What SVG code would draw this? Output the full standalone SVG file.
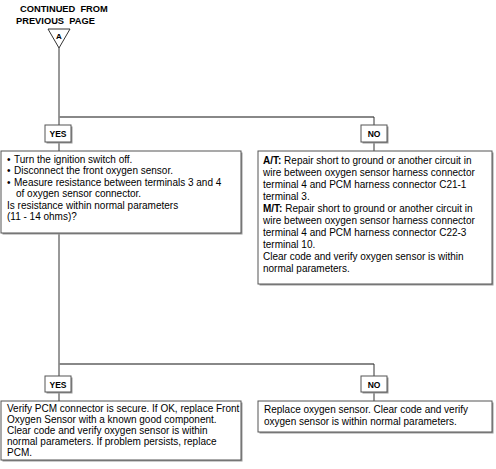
<svg xmlns="http://www.w3.org/2000/svg" width="496" height="469" viewBox="0 0 496 469">
<style>
text{font-family:"Liberation Sans",Arial,sans-serif;fill:#000}
.t{font-size:10px}
.h{font-size:9.3px;font-weight:bold;white-space:pre}
.lb{font-size:8.5px;font-weight:bold;text-anchor:middle}
.box{fill:#fff;stroke:#555;stroke-width:1}
.sh{fill:#999;stroke:none}
.c{stroke:#333;stroke-width:1;fill:none}
.ch{stroke:#888;stroke-width:2;fill:none}
</style>
<rect width="496" height="469" fill="#fff"/>
<g id="start">
<text class="h" x="20" y="12" xml:space="preserve">CONTINUED  FROM</text>
<text class="h" x="16" y="24" xml:space="preserve">PREVIOUS  PAGE</text>
<polygon points="48,29 70,29 59,48" fill="#fff" stroke="#333" stroke-width="1"/>
<text class="lb" x="59" y="39" style="font-size:8px">A</text>
</g>
<g id="connectors">
<line class="c" x1="59" y1="48" x2="59" y2="125"/>
<line class="ch" x1="59" y1="117" x2="374" y2="117"/>
<line class="c" x1="374" y1="117" x2="374" y2="125"/>
<line class="c" x1="59" y1="142" x2="59" y2="151"/>
<line class="c" x1="374" y1="142" x2="374" y2="151"/>
<line class="c" x1="59" y1="233" x2="59" y2="376"/>
<line class="ch" x1="59" y1="364" x2="374" y2="364"/>
<line class="c" x1="374" y1="364" x2="374" y2="376"/>
<line class="c" x1="59" y1="392" x2="59" y2="401"/>
<line class="c" x1="374" y1="392" x2="374" y2="401"/>
</g>
<g id="yes1">
<rect class="sh" x="46.5" y="126.5" width="26" height="17"/>
<rect class="box" x="45" y="125" width="26" height="17"/>
<text class="lb" x="58" y="137">YES</text>
</g>
<g id="no1">
<rect class="sh" x="362.5" y="126.5" width="26" height="17"/>
<rect class="box" x="361" y="125" width="26" height="17"/>
<text class="lb" x="374" y="137">NO</text>
</g>
<g id="check">
<rect class="sh" x="2.5" y="152.5" width="240" height="82"/>
<rect class="box" x="1" y="151" width="240" height="82"/>
<text class="t" x="7" y="162.5">•</text><text class="t" x="14" y="162.5">Turn the ignition switch off.</text>
<text class="t" x="7" y="174">•</text><text class="t" x="14" y="174">Disconnect the front oxygen sensor.</text>
<text class="t" x="7" y="185.5">•</text><text class="t" x="14" y="185.5">Measure resistance between terminals 3 and 4</text>
<text class="t" x="16" y="197">of oxygen sensor connector.</text>
<text class="t" x="7" y="208.5">Is resistance within normal parameters</text>
<text class="t" x="7" y="220">(11 - 14 ohms)?</text>
</g>
<g id="repair">
<rect class="sh" x="259.5" y="152.5" width="234" height="133"/>
<rect class="box" x="258" y="151" width="234" height="133"/>
<text class="t" x="263" y="163.5"><tspan font-weight="bold">A/T:</tspan> Repair short to ground or another circuit in</text>
<text class="t" x="263" y="175.5">wire between oxygen sensor harness connector</text>
<text class="t" x="263" y="187.5">terminal 4 and PCM harness connector C21-1</text>
<text class="t" x="263" y="199.5">terminal 3.</text>
<text class="t" x="263" y="211.5"><tspan font-weight="bold">M/T:</tspan> Repair short to ground or another circuit in</text>
<text class="t" x="263" y="223.5">wire between oxygen sensor harness connector</text>
<text class="t" x="263" y="235.5">terminal 4 and PCM harness connector C22-3</text>
<text class="t" x="263" y="247.5">terminal 10.</text>
<text class="t" x="263" y="259.5">Clear code and verify oxygen sensor is within</text>
<text class="t" x="263" y="271.5">normal parameters.</text>
</g>
<g id="yes2">
<rect class="sh" x="46.5" y="377.5" width="26" height="16"/>
<rect class="box" x="45" y="376" width="26" height="16"/>
<text class="lb" x="58" y="387.5">YES</text>
</g>
<g id="no2">
<rect class="sh" x="362.5" y="377.5" width="26" height="16"/>
<rect class="box" x="361" y="376" width="26" height="16"/>
<text class="lb" x="374" y="387.5">NO</text>
</g>
<g id="replacepcm">
<rect class="sh" x="2.5" y="402.5" width="240" height="59"/>
<rect class="box" x="1" y="401" width="240" height="59"/>
<text class="t" x="7" y="412">Verify PCM connector is secure. If OK, replace Front</text>
<text class="t" x="7" y="423">Oxygen Sensor with a known good component.</text>
<text class="t" x="7" y="434">Clear code and verify oxygen sensor is within</text>
<text class="t" x="7" y="445">normal parameters. If problem persists, replace</text>
<text class="t" x="7" y="456">PCM.</text>
</g>
<g id="replacesensor">
<rect class="sh" x="259.5" y="402.5" width="234" height="31"/>
<rect class="box" x="258" y="401" width="234" height="31"/>
<text class="t" x="264" y="413">Replace oxygen sensor. Clear code and verify</text>
<text class="t" x="264" y="424.5">oxygen sensor is within normal parameters.</text>
</g>
</svg>
